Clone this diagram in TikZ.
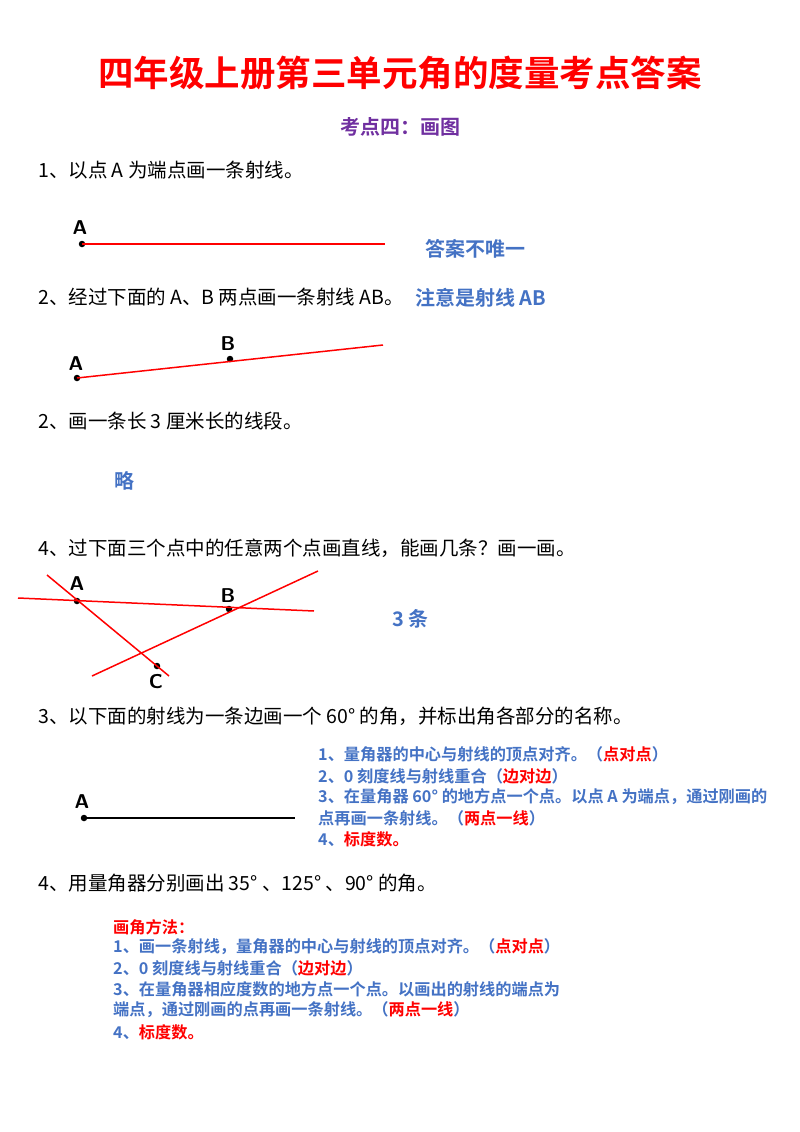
\documentclass[tikz,border=0pt]{standalone}
\usepackage{fontspec}
\setmainfont{Noto Sans CJK SC}
\newfontfamily\cjkb{Noto Sans CJK SC Bold}
\definecolor{bl}{HTML}{4472C4}
\definecolor{rd}{HTML}{FF0000}
\definecolor{pu}{HTML}{7030A0}
\begin{document}
\begin{tikzpicture}[x=1pt,y=-1pt,
  body/.style={anchor=west,inner sep=0,font=\fontsize{19.5}{22}\selectfont},
  note/.style={anchor=west,inner sep=0,text=bl,font=\cjkb\fontsize{20}{22}\selectfont},
  lst/.style={anchor=west,inner sep=0,text=bl,font=\cjkb\fontsize{16.2}{18}\selectfont},
  lbl/.style={inner sep=0,font=\sffamily\bfseries\fontsize{20}{22}\selectfont},
  ray/.style={draw=rd,line width=1.5pt},
  pt/.style={circle,fill=black,inner sep=0,minimum size=6.5pt}]
\useasboundingbox (0,0) rectangle (800,1132);
\node[inner sep=0,text=rd,font=\cjkb\fontsize{35.5}{40}\selectfont] (title) at (400,73) {四年级上册第三单元角的度量考点答案};
\node[inner sep=0,text=pu,font=\cjkb\fontsize{20}{22}\selectfont] (sub) at (400,127) {考点四：画图};
\node[body] (q1) at (38,170) {1、以点 A 为端点画一条射线。};
\node[pt] (a1) at (82,244) {}; \coordinate (e1) at (385,244);
\draw[ray] (a1.center) -- (e1);
\node[lbl] (la1) at (80,228) {A};
\node[note] (n1) at (425,249) {答案不唯一};
\node[body] (q2) at (38,297) {2、经过下面的 A、B 两点画一条射线 AB。};
\node[note] (n2) at (415,298) {注意是射线 AB};
\node[pt] (a2) at (77,378) {}; \node[pt] (b2) at (230,359) {}; \coordinate (e2) at (383,345);
\draw[ray] (a2.center) -- (e2);
\node[lbl] (la2) at (76,364) {A}; \node[lbl] (lb2) at (228,344) {B};
\node[body] (q3) at (38,421) {2、画一条长 3 厘米长的线段。};
\node[note] (n3) at (114,481) {略};
\node[body] (q4) at (38,548) {4、过下面三个点中的任意两个点画直线，能画几条？画一画。};
\node[pt] (a3) at (77,601) {}; \node[pt] (b3) at (229,609) {}; \node[pt] (c3) at (157,666) {};
\coordinate (p1) at (18,598); \coordinate (p2) at (314,611);
\coordinate (p3) at (47,575); \coordinate (p4) at (169,676);
\coordinate (p5) at (92,676); \coordinate (p6) at (318,571);
\draw[ray] (p1) -- (p2); \draw[ray] (p3) -- (p4); \draw[ray] (p5) -- (p6);
\node[lbl] (la3) at (77,584) {A}; \node[lbl] (lb3) at (228,596) {B}; \node[lbl] (lc3) at (156,682) {C};
\node[note] (n4) at (392,619) {3 条};
\node[body] (q5) at (38,716) {3、以下面的射线为一条边画一个 60° 的角，并标出角各部分的名称。};
\node[pt] (a4) at (84,818) {}; \coordinate (e4) at (295,818);
\draw[line width=1.5pt] (a4.center) -- (e4);
\node[lbl] (la4) at (82,802) {A};
\node[lst] (s1) at (318,754) {1、量角器的中心与射线的顶点对齐。（\textcolor{rd}{点对点}）};
\node[lst] (s2) at (318,776) {2、0 刻度线与射线重合（\textcolor{rd}{边对边}）};
\node[lst] (s3) at (318,797) {3、在量角器 60° 的地方点一个点。以点 A 为端点，通过刚画的};
\node[lst] (s4) at (318,818) {点再画一条射线。（\textcolor{rd}{两点一线}）};
\node[lst] (s5) at (318,839) {4、\textcolor{rd}{标度数。}};
\node[body] (q6) at (38,883) {4、用量角器分别画出 35° 、125° 、90° 的角。};
\node[lst,text=rd] (t0) at (113,927) {画角方法：};
\node[lst] (t1) at (113,947) {1、画一条射线，量角器的中心与射线的顶点对齐。（\textcolor{rd}{点对点}）};
\node[lst] (t2) at (113,968) {2、0 刻度线与射线重合（\textcolor{rd}{边对边}）};
\node[lst] (t3) at (113,989) {3、在量角器相应度数的地方点一个点。以画出的射线的端点为};
\node[lst] (t4) at (113,1010) {端点，通过刚画的点再画一条射线。（\textcolor{rd}{两点一线}）};
\node[lst] (t5) at (113,1032) {4、\textcolor{rd}{标度数。}};
\end{tikzpicture}
\end{document}
